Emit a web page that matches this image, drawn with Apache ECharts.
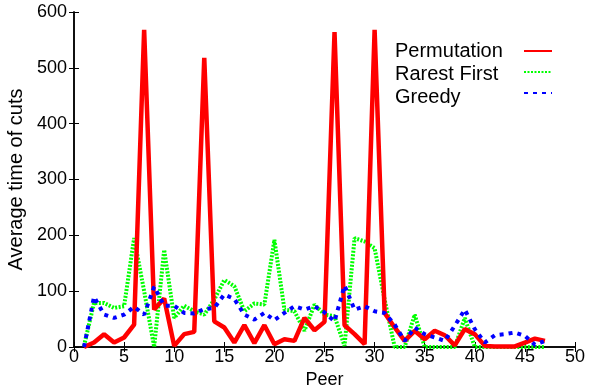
<!DOCTYPE html>
<html lang="en">
<head>
	<meta charset="UTF-8">
	<title>Average time of cuts</title>
	<style type="text/css">
	html, body { margin: 0; padding: 0; background: #fff; }
	</style>
	<script src="https://cdn.jsdelivr.net/npm/echarts@6/dist/echarts.min.js"></script>
</head>
<body>
	<div id="main" style="width: 589px;height:385px;"></div>
	<script type="text/javascript">
	var peers = [1,2,3,4,5,6,7,8,9,10,11,12,13,14,15,16,17,18,19,20,21,22,23,24,25,26,27,28,29,30,31,32,33,34,35,36,37,38,39,40,41,42,43,44,45,46,47]
	var permutation = [0,8,23,8,17,40,568,67,87,2,23,27,518,46,35,8,39,7,39,5,14,11,52,30,45,564,39,23,5,568,61,35,11,29,14,29,21,3,32,23,2,1,1,1,8,15,11]
	var rarestFirst = [2,79,79,70,73,195,100,0,174,52,74,64,58,85,120,109,64,78,76,192,67,64,29,76,58,55,2,195,189,177,85,0,0,58,0,0,0,0,52,0,0,0,0,0,0,0,0]
	var greedy = [0,90,58,52,58,72,58,108,74,74,61,60,68,70,94,86,58,49,61,48,61,73,67,73,62,46,110,67,73,64,61,40,11,35,23,17,11,38,67,32,8,21,23,26,20,4,11]
	var seriesNames = ['Permutation', 'Rarest First', 'Greedy']

	function pairs(vals) {
		var out = []
		for (var i = 0; i < peers.length; i++) {
			out.push([peers[i], vals[i]])
		}
		return out
	}

	var font = 'Liberation Sans, Arial, Helvetica, sans-serif'
	var myChart = echarts.init(document.getElementById('main'));
	var axisLine = { show: true, lineStyle: { color: '#000', width: 1.5 } }
	var tick = { show: true, inside: true, length: 5, lineStyle: { color: '#000', width: 1 } }
	var option = {
		animation: false,
		backgroundColor: '#fff',
		grid: { left: 74, right: 14, top: 12, bottom: 38, outerBoundsMode: 'none' },
		legend: [{
			data: seriesNames,
			orient: 'vertical',
			left: 385,
			top: 36,
			itemGap: 3,
			itemWidth: 0,
			itemHeight: 20,
			icon: 'rect',
			itemStyle: { opacity: 0 },
			lineStyle: { opacity: 0 },
			textStyle: { fontFamily: font, fontSize: 20, color: '#000' },
			selectedMode: false
		}, {
			data: seriesNames,
			orient: 'vertical',
			left: 518,
			top: 36,
			itemGap: 3,
			itemWidth: 28,
			itemHeight: 20,
			itemStyle: { opacity: 0 },
			formatter: function () { return '' },
			selectedMode: false
		}],
		xAxis: [{
			type: 'value',
			min: 0, max: 50, interval: 5,
			name: 'Peer',
			nameLocation: 'middle',
			nameGap: 9,
			nameTextStyle: { fontFamily: font, fontSize: 18, color: '#000' },
			axisLine: axisLine,
			axisTick: tick,
			axisLabel: { fontFamily: font, fontSize: 18, color: '#000', margin: 1 },
			splitLine: { show: false }
		}, {
			type: 'value',
			position: 'top',
			min: 0, max: 50, interval: 5,
			axisLine: axisLine,
			axisTick: tick,
			axisLabel: { show: false },
			splitLine: { show: false }
		}],
		yAxis: [{
			type: 'value',
			min: 0, max: 600, interval: 100,
			name: 'Average time of cuts',
			nameLocation: 'middle',
			nameGap: 44,
			nameTextStyle: { fontFamily: font, fontSize: 20, color: '#000' },
			axisLine: axisLine,
			axisTick: tick,
			axisLabel: { fontFamily: font, fontSize: 18, color: '#000', margin: 7 },
			splitLine: { show: false }
		}, {
			type: 'value',
			position: 'right',
			min: 0, max: 600, interval: 100,
			axisLine: axisLine,
			axisTick: tick,
			axisLabel: { show: false },
			splitLine: { show: false }
		}],
		series: [{
			name: 'Permutation',
			type: 'line',
			data: pairs(permutation),
			symbol: 'none',
			z: 3,
			itemStyle: { color: '#ff0000' },
			lineStyle: { color: '#ff0000', width: 4.5 }
		}, {
			name: 'Rarest First',
			type: 'line',
			data: pairs(rarestFirst),
			symbol: 'none',
			z: 2,
			itemStyle: { color: '#00ff00' },
			lineStyle: { color: '#00ff00', width: 4, type: [2, 1.5] }
		}, {
			name: 'Greedy',
			type: 'line',
			data: pairs(greedy),
			symbol: 'none',
			z: 4,
			itemStyle: { color: '#0000ff' },
			lineStyle: { color: '#0000ff', width: 4, type: [4, 5] }
		}]
	};
	myChart.setOption(option);
	</script>
</body>
</html>
